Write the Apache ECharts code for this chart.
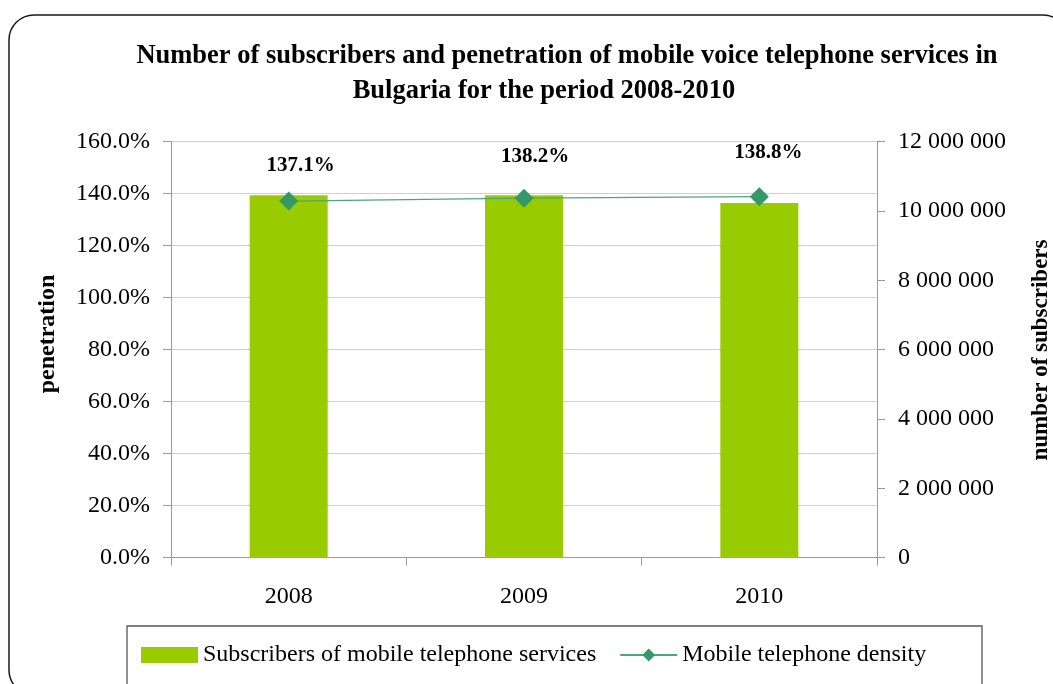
<!DOCTYPE html>
<html>
<head>
<meta charset="utf-8">
<script src="https://cdn.jsdelivr.net/npm/echarts@6/dist/echarts.min.js"></script>
<style>
  html, body { margin: 0; padding: 0; background: #ffffff; }
  #chart { width: 1053px; height: 684px; }
</style>
</head>
<body>
<div id="chart"></div>
<script>
// Mobile voice telephony in Bulgaria, 2008-2010
const years = ['2008', '2009', '2010'];
const subscribers = [10450000, 10450000, 10230000];   // right axis, bars
const density = [137.1, 138.2, 138.8];                // left axis, %, line
const titleLines = [
  'Number of subscribers and penetration of mobile voice telephone services in',
  'Bulgaria for the period 2008-2010'
];
const seriesNames = ['Subscribers of mobile telephone services', 'Mobile telephone density'];

// label nudges for the density values (px)
const labelNudge = [[12, -10], [11, -17], [9, -19]];

const FONT = '"Liberation Serif", "Times New Roman", serif';

function spaced(n) {
  return String(Math.round(n)).replace(/\B(?=(\d{3})+(?!\d))/g, ' ');
}

const chart = echarts.init(document.getElementById('chart'), null, { renderer: 'canvas' });

const option = {
  backgroundColor: '#ffffff',
  animation: false,
  textStyle: { fontFamily: FONT },
  title: [
    {
      text: titleLines[0], left: 562, top: 38, textAlign: 'center',
      textStyle: { fontFamily: FONT, fontSize: 26.5, fontWeight: 'bold', color: '#000' }
    },
    {
      text: titleLines[1], left: 539, top: 73, textAlign: 'center',
      textStyle: { fontFamily: FONT, fontSize: 26.5, fontWeight: 'bold', color: '#000' }
    }
  ],
  legend: {
    left: 136, top: 638,
    itemWidth: 57, itemHeight: 16, itemGap: 23,
    textStyle: { fontFamily: FONT, fontSize: 24, color: '#000' },
    data: [
      { name: seriesNames[0], icon: 'rect' },
      { name: seriesNames[1] }
    ]
  },
  grid: { left: 171, right: 176, top: 141.5, bottom: 126.3, containLabel: false },
  xAxis: {
    type: 'category',
    data: years,
    axisLine: { lineStyle: { color: '#9a9a9a', width: 1 } },
    axisTick: { show: true, length: 8, lineStyle: { color: '#9a9a9a' } },
    axisLabel: { fontFamily: FONT, fontSize: 24, color: '#000', margin: 27 }
  },
  yAxis: [
    {
      type: 'value', min: 0, max: 160, interval: 20, position: 'left',
      axisLine: { show: true, lineStyle: { color: '#9a9a9a' } },
      axisTick: { show: true, length: 8, lineStyle: { color: '#9a9a9a' } },
      axisLabel: {
        fontFamily: FONT, fontSize: 24, color: '#000', margin: 21,
        formatter: v => v.toFixed(1) + '%'
      },
      splitLine: { lineStyle: { color: '#cfcfcf', width: 1 } }
    },
    {
      type: 'value', min: 0, max: 12000000, interval: 2000000, position: 'right',
      axisLine: { show: true, lineStyle: { color: '#9a9a9a' } },
      axisTick: { show: true, length: 8, lineStyle: { color: '#9a9a9a' } },
      axisLabel: {
        fontFamily: FONT, fontSize: 24, color: '#000', margin: 21,
        formatter: v => spaced(v)
      },
      splitLine: { show: false }
    }
  ],
  graphic: [
    {
      type: 'rect', silent: true, z: 100,
      shape: { x: 9, y: 15, width: 1059, height: 680, r: 25 },
      style: { fill: null, stroke: '#1a1a1a', lineWidth: 1.5 }
    },
    {
      type: 'rect', silent: true, z: 100,
      shape: { x: 127, y: 626, width: 855, height: 80 },
      style: { fill: null, stroke: '#555555', lineWidth: 1.3 }
    },
    {
      type: 'text', silent: true, z: 100,
      x: 48, y: 334, rotation: Math.PI / 2,
      style: {
        text: 'penetration', fontFamily: FONT, fontSize: 24, fontWeight: 'bold',
        fill: '#000', align: 'center', verticalAlign: 'middle'
      }
    },
    {
      type: 'text', silent: true, z: 100,
      x: 1041, y: 350, rotation: Math.PI / 2,
      style: {
        text: 'number of subscribers', fontFamily: FONT, fontSize: 23, fontWeight: 'bold',
        fill: '#000', align: 'center', verticalAlign: 'middle'
      }
    }
  ],
  series: [
    {
      name: seriesNames[0],
      type: 'bar',
      yAxisIndex: 1,
      barWidth: 78,
      itemStyle: { color: '#99cc00' },
      data: subscribers
    },
    {
      name: seriesNames[1],
      type: 'line',
      yAxisIndex: 0,
      symbol: 'diamond',
      symbolSize: 19,
      itemStyle: { color: '#339966' },
      lineStyle: { color: '#4da67a', width: 1.3 },
      label: {
        show: true, position: 'top', distance: 5,
        fontFamily: FONT, fontSize: 21, fontWeight: 'bold', color: '#000',
        formatter: p => p.value.toFixed(1) + '%'
      },
      data: density.map((v, i) => ({ value: v, label: { offset: labelNudge[i] } }))
    }
  ]
};

chart.setOption(option);
</script>
</body>
</html>
